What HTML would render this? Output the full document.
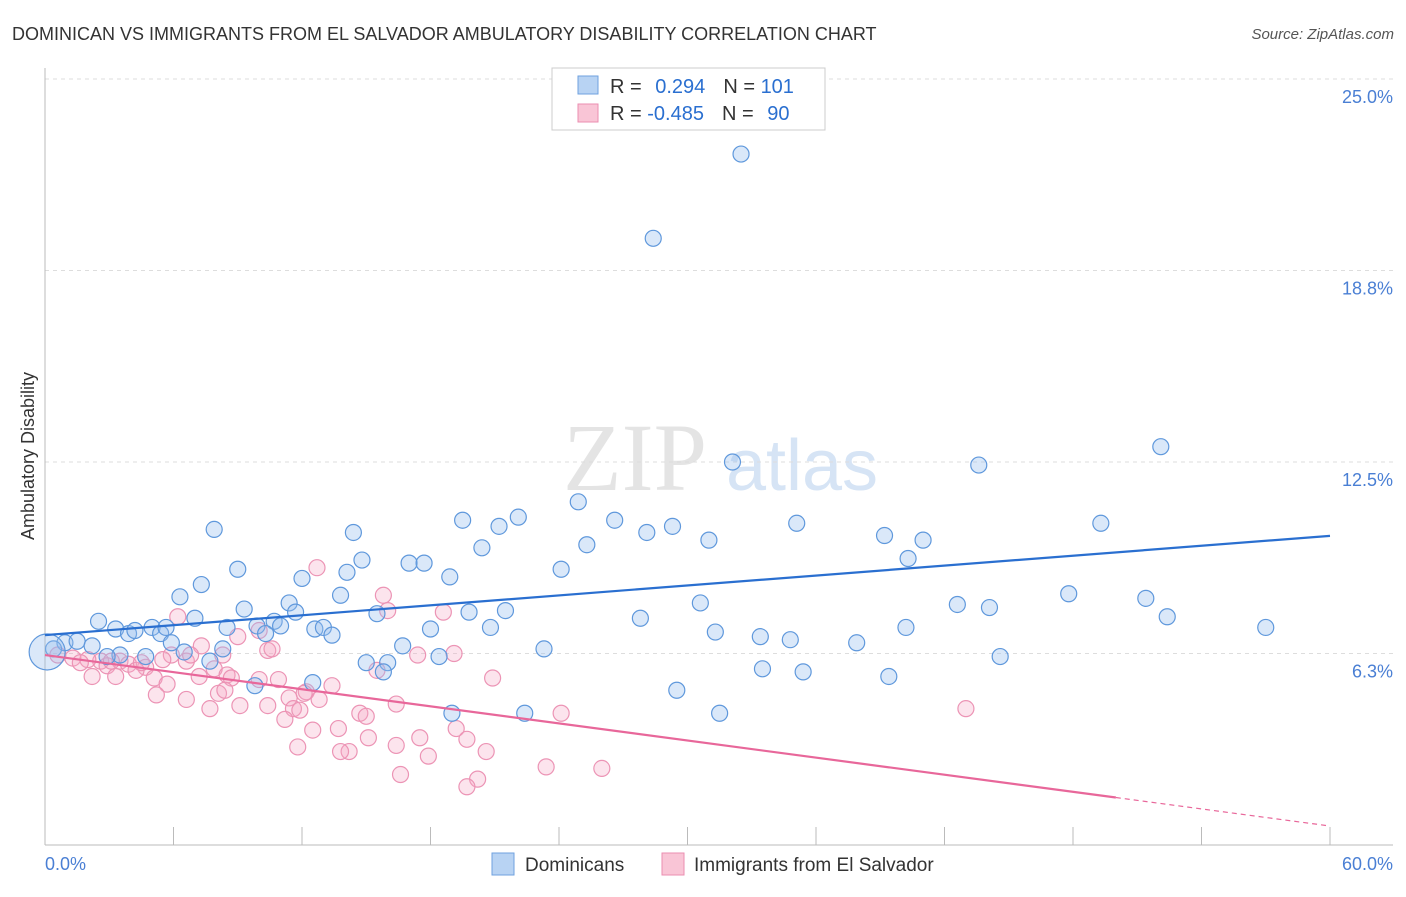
<!DOCTYPE html>
<html><head><meta charset="utf-8"><style>
body{margin:0;background:#fff;font-family:"Liberation Sans",sans-serif;}
</style></head><body>
<svg id="chart" width="1406" height="892" xmlns="http://www.w3.org/2000/svg">
<text x="12" y="40" font-size="18" fill="#333">DOMINICAN VS IMMIGRANTS FROM EL SALVADOR AMBULATORY DISABILITY CORRELATION CHART</text>
<text x="1394" y="39" font-size="15" fill="#555" font-style="italic" text-anchor="end">Source: ZipAtlas.com</text>
<g>
<text x="635" y="490" font-size="96" fill="#e4e4e4" font-family="Liberation Serif,serif" text-anchor="middle">ZIP</text>
<text x="802" y="490" font-size="72" fill="#d6e4f5" text-anchor="middle">atlas</text>
</g>
<g id="grid"></g>
<g id="axes"></g>
<g id="pts"></g>
<g id="trend"></g>
<g>
<rect x="552" y="68" width="273" height="62" fill="#fff" stroke="#ccc"/>
<rect x="578" y="76" width="20" height="18" fill="#b8d3f3" stroke="#6fa1df"/>
<rect x="578" y="104" width="20" height="18" fill="#f9c5d6" stroke="#eb8eb0"/>
<text x="610" y="93" font-size="20" fill="#333">R =  <tspan fill="#2a6fd0" dx="8">0.294</tspan><tspan dx="18" fill="#333">N = </tspan><tspan fill="#2a6fd0">101</tspan></text>
<text x="610" y="120" font-size="20" fill="#333">R = <tspan fill="#2a6fd0">-0.485</tspan><tspan dx="18" fill="#333">N = </tspan><tspan fill="#2a6fd0" dx="8">90</tspan></text>
</g>
<g>
<rect x="492" y="853" width="22" height="22" fill="#b8d3f3" stroke="#6fa1df"/>
<text x="525" y="871" font-size="19" fill="#333">Dominicans</text>
<rect x="662" y="853" width="22" height="22" fill="#f9c5d6" stroke="#eb8eb0"/>
<text x="694" y="871" font-size="19" fill="#333">Immigrants from El Salvador</text>
</g>
</svg>
<script>
const xTicks=[0,6,12,18,24,30,36,42,48,54,60];
const yTicks=[6.25,12.5,18.75,25];
const yTickLabels=["6.3%","12.5%","18.8%","25.0%"];
const blueX=[32.5,28.4,52.1,32.1,43.6,24.9,19.5,22.1,26.6,21.2,29.3,35.1,49.3,7.9,14.4,28.1,39.2,41.0,31.0,25.3,20.4,14.8,40.3,17.0,17.7,9.0,24.1,14.1,18.9,12.0,7.3,6.3,13.8,47.8,51.4,30.6,42.6,44.1,11.4,9.3,11.7,19.8,21.5,15.5,2.5,7.0,10.7,11.0,27.8,52.4,57.0,40.2,3.3,3.9,4.2,5.0,5.4,5.65,8.5,9.9,10.3,12.6,13.0,13.4,18.0,20.8,31.3,33.4,34.8,37.9,5.9,16.7,23.3,0.93,1.5,2.2,0.4,6.5,8.3,3.5,4.7,2.9,7.7,18.4,44.6,15.0,16.0,15.8,33.5,35.4,39.4,12.5,9.8,29.5,19.0,22.4,31.5,0.1];
const blueY=[22.55,19.8,13.0,12.5,12.4,11.2,10.6,10.7,10.6,10.4,10.4,10.5,10.5,10.3,10.2,10.2,10.1,9.95,9.95,9.8,9.7,9.3,9.35,9.2,9.2,9.0,9.0,8.9,8.75,8.7,8.5,8.1,8.15,8.2,8.05,7.9,7.85,7.75,7.9,7.7,7.6,7.6,7.65,7.55,7.3,7.4,7.3,7.15,7.4,7.45,7.1,7.1,7.05,6.9,7.0,7.1,6.9,7.1,7.1,7.15,6.9,7.05,7.1,6.85,7.05,7.1,6.95,6.8,6.7,6.6,6.6,6.5,6.4,6.6,6.65,6.5,6.4,6.3,6.4,6.2,6.15,6.15,6.0,6.15,6.15,5.95,5.95,5.65,5.75,5.65,5.5,5.3,5.2,5.05,4.3,4.3,4.3,6.3];
const pinkX=[12.7,15.8,16.0,18.6,6.2,9.0,10.0,7.3,8.3,10.4,10.6,19.1,17.4,5.9,6.6,5.5,6.8,4.7,3.5,3.9,2.6,2.0,1.3,0.6,1.65,2.9,3.1,4.25,5.1,5.7,4.5,2.2,3.3,7.9,8.5,8.7,7.2,10.9,10.0,15.5,20.9,5.2,6.6,8.1,8.4,12.2,13.4,12.1,11.4,12.8,7.7,9.1,10.4,11.6,11.9,16.4,14.7,15.0,24.1,43.0,11.2,12.5,13.7,19.2,17.5,15.1,19.7,11.8,16.4,14.2,13.8,20.6,17.9,23.4,26.0,16.6,20.2,19.7];
const pinkY=[9.05,8.15,7.65,7.6,7.45,6.8,7.0,6.5,6.2,6.35,6.4,6.25,6.2,6.2,6.0,6.05,6.2,5.8,6.0,5.9,6.0,6.05,6.1,6.2,5.95,5.85,6.0,5.7,5.45,5.25,5.95,5.5,5.5,5.75,5.55,5.45,5.5,5.4,5.4,5.7,5.45,4.9,4.75,4.95,5.05,5.0,5.2,4.95,4.8,4.75,4.45,4.55,4.55,4.45,4.4,4.6,4.3,4.2,4.3,4.45,4.1,3.75,3.8,3.8,3.5,3.5,3.45,3.2,3.25,3.05,3.05,3.05,2.9,2.55,2.5,2.3,2.15,1.9];
const blueTrend=[6.85,10.09];
const pinkTrend=[6.2,0.62];
const pinkSolidEnd=50;
const NS="http://www.w3.org/2000/svg";
const sx=v=>45+v*(1285/60);
const sy=v=>845-v*(766/25);
function mk(tag,attrs,parent){const e=document.createElementNS(NS,tag);for(const k in attrs)e.setAttribute(k,attrs[k]);parent.appendChild(e);return e;}
const grid=document.getElementById('grid'),axes=document.getElementById('axes');
yTicks.forEach((t,i)=>{
 const l=mk('line',{x1:45,x2:1393,y1:sy(t),y2:sy(t),stroke:'#ddd','stroke-dasharray':'4,4'},grid);
 
 
 const tx=mk('text',{x:1393,y:sy(t)+24,'font-size':18,fill:'#4a7fd4','text-anchor':'end'},axes);
 tx.textContent=yTickLabels[i];
 
 
});
const ax=mk('line',{x1:45,x2:1393,y1:845,y2:845,stroke:'#bbb'},axes);


const ay=mk('line',{x1:45,x2:45,y1:68,y2:845,stroke:'#bbb'},axes);


xTicks.forEach(t=>{
 const l=mk('line',{x1:sx(t),x2:sx(t),y1:827,y2:845,stroke:'#bbb'},axes);
 
 
});
const x0=mk('text',{x:45,y:870,'font-size':18,fill:'#4a7fd4'},axes);x0.textContent=xTicks[0].toFixed(1)+'%';


const x1=mk('text',{x:1393,y:870,'font-size':18,fill:'#4a7fd4','text-anchor':'end'},axes);x1.textContent=xTicks[xTicks.length-1].toFixed(1)+'%';


const yt=mk('text',{x:34,y:456,'font-size':18,fill:'#333','text-anchor':'middle',transform:'rotate(-90 34 456)'},axes);yt.textContent='Ambulatory Disability';


const pts=document.getElementById('pts');
pinkX.forEach((v,i)=>{
 const c=mk('circle',{cx:sx(v),cy:sy(pinkY[i]),r:8,fill:'rgba(244,167,196,0.3)',stroke:'#ec94b5','stroke-width':1.2},pts);
 
 
});
blueX.forEach((v,i)=>{
 const big=i===blueX.length-1;
 const c=mk('circle',{cx:sx(v),cy:sy(blueY[i]),r:big?18:8,fill:'rgba(150,190,238,0.35)',stroke:'#5f98dc','stroke-width':1.2},pts);
 
 
});
const tr=document.getElementById('trend');
const bl=mk('line',{x1:sx(0),y1:sy(blueTrend[0]),x2:sx(60),y2:sy(blueTrend[1]),stroke:'#2a6fd0','stroke-width':2.2},tr);


const pAt=x=>pinkTrend[0]+(pinkTrend[1]-pinkTrend[0])*x/60;
const pl=mk('line',{x1:sx(0),y1:sy(pinkTrend[0]),x2:sx(pinkSolidEnd),y2:sy(pAt(pinkSolidEnd)),stroke:'#e8679a','stroke-width':2.2},tr);


const pd=mk('line',{x1:sx(pinkSolidEnd),y1:sy(pAt(pinkSolidEnd)),x2:sx(60),y2:sy(pinkTrend[1]),stroke:'#e8679a','stroke-width':1.2,'stroke-dasharray':'5,4'},tr);


</script>
</body></html>
